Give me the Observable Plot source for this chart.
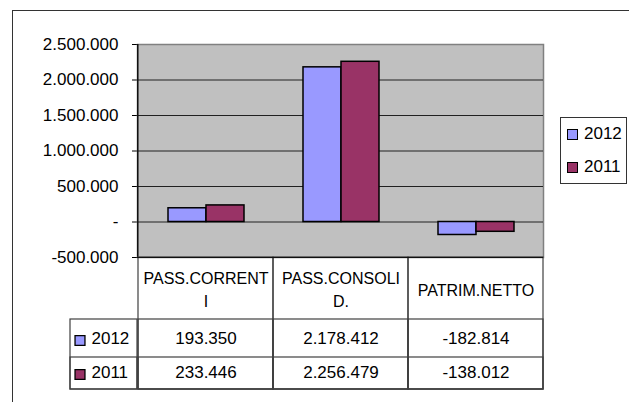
<!DOCTYPE html>
<html>
<head>
<meta charset="utf-8">
<script src="https://cdn.jsdelivr.net/npm/d3@7"></script>
<script src="https://cdn.jsdelivr.net/npm/@observablehq/plot@0.6"></script>
<style>
  html, body { margin: 0; padding: 0; background: #fff; overflow: hidden; }
  #wrap { position: relative; width: 660px; height: 402px; overflow: hidden; background: #fff; font-family: "Liberation Sans", Arial, sans-serif; }
  #topline { position: absolute; left: 12px; top: 10px; width: 640px; height: 0; border-top: 1.5px solid #333; }
  #leftline { position: absolute; left: 12px; top: 10px; width: 0; height: 420px; border-left: 1.5px solid #333; }
  #wrap svg { position: absolute; left: 0; top: 0; }
  #legend { position: absolute; left: 560px; top: 117px; width: 65px; height: 65px; border: 1px solid #333; background: #fff; }
  .item { position: absolute; left: 6px; height: 20px; display: flex; align-items: center; font-size: 17px; color: #000; }
  .sw { width: 9px; height: 9px; border: 1.5px solid #000; margin-right: 6px; }
</style>
</head>
<body>
<div id="wrap"><div id="topline"></div><div id="leftline"></div></div>
<script>
const categories = ["PASS.CORRENTI", "PASS.CONSOLID.", "PATRIM.NETTO"];
const headerLabels = ["PASS.CORRENT\nI", "PASS.CONSOLI\nD.", "PATRIM.NETTO"];
const series = ["2012", "2011"];
const values2012 = [193350, 2178412, -182814];
const values2011 = [233446, 2256479, -138012];
const yTicks = [-500000, 0, 500000, 1000000, 1500000, 2000000, 2500000];
const colors = ["#9999FF", "#993366"];

const W = 629, H = 402, mL = 137, mR = 86, mT = 44, mB = 145;
const plotH = H - mT - mB, plotW = W - mL - mR;
const tableH = 132, headerH = 62, row1H = 38;

const loc = d3.formatLocale({decimal: ",", thousands: ".", grouping: [3], currency: ["€", ""], minus: "-"});
const fmt = loc.format(",d");
const tickFmt = d => d === 0 ? "-" : fmt(d);

const data = [];
categories.forEach((c, i) => {
  data.push({cat: c, series: series[0], value: values2012[i]});
  data.push({cat: c, series: series[1], value: values2011[i]});
});

const yDomain = [yTicks[0], yTicks[yTicks.length - 1]];
const color = {domain: series, range: colors};
const lineColor = "#404040";

const base = Plot.plot({
  width: W, height: H,
  marginLeft: mL, marginRight: mR, marginTop: mT, marginBottom: mB,
  style: {background: "transparent", fontFamily: "Liberation Sans, Arial, sans-serif", fontSize: "17px", color: "#000", maxWidth: "none"},
  x: {type: "band", domain: categories, padding: 0, axis: null},
  y: {domain: yDomain, ticks: yTicks, tickFormat: tickFmt, tickSize: 5, tickPadding: 14, label: null},
  color,
  marks: [
    Plot.frame({fill: "#C0C0C0", stroke: "#808080", strokeWidth: 1.5}),
    Plot.ruleY(yTicks.slice(1, -1), {stroke: "#202020", strokeWidth: 1}),
    Plot.rect([0], {fill: "#111", insetRight: plotW - 1.5}),
    Plot.cell(categories, {x: d => d, insetTop: plotH, insetBottom: -tableH, fill: "none", stroke: lineColor, strokeWidth: 1.2}),
    Plot.cell(categories, {x: d => d, insetTop: plotH + headerH, insetBottom: -tableH, fill: "none", stroke: lineColor, strokeWidth: 1.2}),
    Plot.cell(categories, {x: d => d, insetTop: plotH + headerH + row1H, insetBottom: -tableH, fill: "none", stroke: lineColor, strokeWidth: 1.2}),
    Plot.rect([0], {insetTop: plotH + headerH, insetBottom: -tableH, insetLeft: -67, insetRight: plotW, fill: "none", stroke: lineColor, strokeWidth: 1.2}),
    Plot.rect([0], {insetTop: plotH + headerH + row1H, insetBottom: -tableH, insetLeft: -67, insetRight: plotW, fill: "none", stroke: lineColor, strokeWidth: 1.2}),
    Plot.ruleY([yDomain[0]], {stroke: "#111", strokeWidth: 1.2}),
    Plot.text(categories, {x: d => d, text: (d, i) => headerLabels[i], frameAnchor: "bottom", dy: 31, lineAnchor: "middle", lineHeight: 1.4, fontSize: 16}),
    Plot.text(values2012, {x: (d, i) => categories[i], text: d => fmt(d), frameAnchor: "bottom", dy: 81, lineAnchor: "middle", fontSize: 17}),
    Plot.text(values2011, {x: (d, i) => categories[i], text: d => fmt(d), frameAnchor: "bottom", dy: 115, lineAnchor: "middle", fontSize: 17}),
    Plot.dot([series[0]], {fill: d => d, stroke: "#000", strokeWidth: 1.3, symbol: "square", r: 5.6, frameAnchor: "bottom-left", dx: -57.5, dy: 83}),
    Plot.dot([series[1]], {fill: d => d, stroke: "#000", strokeWidth: 1.3, symbol: "square", r: 5.6, frameAnchor: "bottom-left", dx: -57.5, dy: 117}),
    Plot.text([series[0]], {text: d => d, frameAnchor: "bottom-left", dx: -46, dy: 81, textAnchor: "start", lineAnchor: "middle", fontSize: 17}),
    Plot.text([series[1]], {text: d => d, frameAnchor: "bottom-left", dx: -46, dy: 115, textAnchor: "start", lineAnchor: "middle", fontSize: 17})
  ]
});

const bars = Plot.plot({
  width: W, height: H,
  marginLeft: mL, marginRight: mR, marginTop: mT, marginBottom: mB,
  style: {background: "transparent", maxWidth: "none"},
  fx: {domain: categories, padding: 0, axis: null, label: null},
  x: {domain: series, paddingInner: 0, paddingOuter: 0.75, axis: null},
  y: {domain: yDomain, axis: null},
  color,
  marks: [
    Plot.barY(data, {fx: "cat", x: "series", y: "value", fill: "series", stroke: "#000", strokeWidth: 1.5})
  ]
});

const wrap = document.getElementById("wrap");
wrap.appendChild(base);
wrap.appendChild(bars);

const legend = document.createElement("div");
legend.id = "legend";
series.forEach((s, i) => {
  const it = document.createElement("div");
  it.className = "item";
  it.style.top = (6 + i * 33) + "px";
  const sw = document.createElement("div");
  sw.className = "sw";
  sw.style.background = colors[i];
  const lb = document.createElement("span");
  lb.textContent = s;
  it.appendChild(sw);
  it.appendChild(lb);
  legend.appendChild(it);
});
wrap.appendChild(legend);
</script>
</body>
</html>
